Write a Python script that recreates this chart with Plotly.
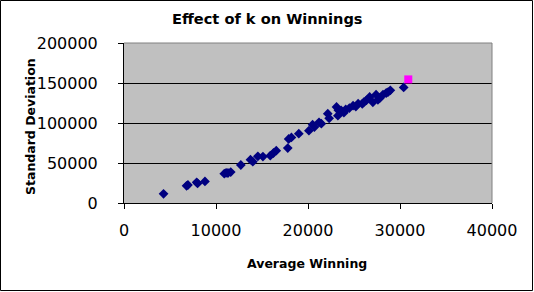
import plotly.graph_objects as go

avg_winning = [4300, 6800, 6950, 7900, 8000, 8800, 10900, 11100, 11300, 11600, 12700,
               13750, 14000, 14550, 15100, 15900, 16250, 16550, 17800, 17900, 18200,
               19000, 20100, 20500, 20700, 21200, 21450, 22150, 22300, 23100, 23300,
               23250, 23600, 23900, 24100, 24500, 24900, 25200, 25450, 25900, 26100,
               26350, 26700, 27050, 27400, 27600, 27800, 28150, 28500, 28700, 28950,
               30400]
std_dev = [11500, 21500, 22500, 25800, 24500, 27000, 36600, 37800, 37500, 38700, 47500,
           54100, 51600, 58300, 58000, 59100, 62500, 65400, 68700, 80000, 82000,
           86600, 90400, 97900, 95000, 100800, 99100, 111600, 105800, 120000, 116000,
           109100, 115800, 112900, 117000, 118700, 121600, 120500, 124100, 123800, 126500,
           128300, 132500, 125800, 135400, 129000, 131000, 135400, 137500, 138500, 140800,
           144500]
best_x = [30900]
best_y = [154500]

x_ticks = [0, 10000, 20000, 30000, 40000]
y_ticks = [0, 50000, 100000, 150000, 200000]

font = "DejaVu Sans, Verdana, sans-serif"

W, H = 534, 292
L, R, T, B = 124, 42, 43, 89
PW, PH = W - L - R, H - T - B


def px(x):
    return (x - L) / PW


def py(y):
    return (T + PH - y) / PH


fig = go.Figure()
fig.add_trace(go.Scatter(x=avg_winning, y=std_dev, mode="markers",
                         marker=dict(symbol="diamond", size=7.5, color="#000080",
                                     line=dict(width=0)), showlegend=False))
fig.add_trace(go.Scatter(x=best_x, y=best_y, mode="markers",
                         marker=dict(symbol="square", size=8, color="#FF00FF",
                                     line=dict(width=0)), showlegend=False))

fig.update_layout(
    width=W, height=H,
    margin=dict(l=L, r=R, t=T, b=B, pad=0),
    paper_bgcolor="white", plot_bgcolor="#C0C0C0",
    xaxis=dict(range=[0, 40000], tickvals=x_ticks, ticktext=[str(v) for v in x_ticks],
               showgrid=False, zeroline=False, showline=True, linecolor="black",
               linewidth=1, ticks="outside", ticklen=5, tickcolor="black",
               ticklabelstandoff=8, automargin=False,
               tickfont=dict(family=font, size=16, color="black")),
    yaxis=dict(range=[0, 200000], tickvals=y_ticks, ticktext=[str(v) for v in y_ticks],
               showgrid=True, gridcolor="black", gridwidth=1, zeroline=False,
               showline=True, linecolor="black", linewidth=1, ticks="outside",
               ticklen=5, tickcolor="black", ticklabelstandoff=17, automargin=False,
               tickfont=dict(family=font, size=16, color="black")),
    annotations=[
        dict(text="<b>Effect of k on Winnings</b>", xref="paper", yref="paper",
             x=px(267), y=py(18), xanchor="center", yanchor="middle", showarrow=False,
             font=dict(family=font, size=14.6, color="black")),
        dict(text="<b>Average Winning</b>", xref="paper", yref="paper",
             x=px(307), y=py(263), xanchor="center", yanchor="middle", showarrow=False,
             font=dict(family=font, size=12.5, color="black")),
        dict(text="<b>Standard Deviation</b>", xref="paper", yref="paper",
             x=px(30), y=py(126), xanchor="center", yanchor="middle", showarrow=False,
             textangle=-90, font=dict(family=font, size=12.5, color="black")),
    ],
    shapes=[
        dict(type="line", xref="paper", yref="paper", x0=0, x1=1, y0=1, y1=1,
             line=dict(color="#808080", width=1)),
        dict(type="line", xref="paper", yref="paper", x0=1, x1=1, y0=0, y1=1,
             line=dict(color="#808080", width=1)),
        dict(type="rect", xref="paper", yref="paper",
             x0=px(0.5), x1=px(532.5), y0=py(290.5), y1=py(0.5),
             line=dict(color="black", width=1), fillcolor="rgba(0,0,0,0)"),
    ],
)

fig.write_html("out.html", config={"displayModeBar": False},
               post_script="document.body.style.margin='0';document.body.style.overflow='hidden';")
